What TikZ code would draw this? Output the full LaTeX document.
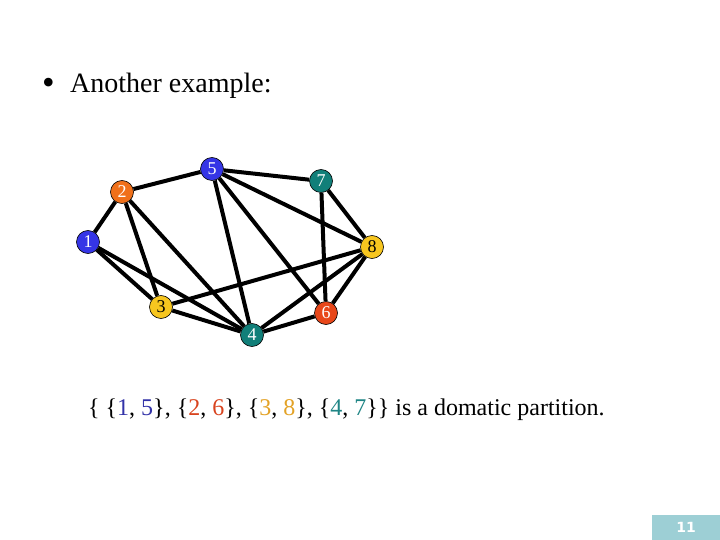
\documentclass[tikz,border=0pt]{standalone}
\usepackage{fontspec}
\setmainfont{Liberation Serif}
\newfontfamily\footfont{DejaVu Sans}
\definecolor{vblue}{HTML}{3535E6}
\definecolor{vorange}{HTML}{F0701A}
\definecolor{vred}{HTML}{E8471A}
\definecolor{vyellow}{HTML}{F7C61F}
\definecolor{vteal}{HTML}{117F79}
\definecolor{tblue}{HTML}{3333A8}
\definecolor{tred}{HTML}{D8431E}
\definecolor{tgold}{HTML}{E3A226}
\definecolor{tteal}{HTML}{1F8585}
\definecolor{footbg}{HTML}{9DCFD5}
\begin{document}
\begin{tikzpicture}[x=1pt, y=-1pt,
    vertex/.style={circle, draw=black, line width=0.6pt, minimum size=23pt, inner sep=0pt, font=\fontsize{18}{18}\selectfont},
    edge/.style={line width=4pt, black}
]
\useasboundingbox (0,0) rectangle (720,540);

% Title
\node[anchor=base west, inner sep=0pt, font=\fontsize{36}{36}\selectfont] (bul) at (42,95) {\textbullet};
\node[anchor=base west, inner sep=0pt, font=\fontsize{28}{28}\selectfont] (title) at (70,93) {Another example:};

% Vertices
\node[vertex, fill=vblue, text=white] (n1) at (88,242) {1};
\node[vertex, fill=vorange, text=white] (n2) at (122,192) {2};
\node[vertex, fill=vyellow, text=black] (n3) at (161,307) {3};
\node[vertex, fill=vteal, text=white] (n4) at (252,335) {4};
\node[vertex, fill=vblue, text=white] (n5) at (212,169) {5};
\node[vertex, fill=vred, text=white] (n6) at (326,313) {6};
\node[vertex, fill=vteal, text=white] (n7) at (321,181) {7};
\node[vertex, fill=vyellow, text=black] (n8) at (372,247) {8};

% Edges
\foreach \a/\b in {1/2, 1/3, 1/4, 2/5, 2/3, 2/4, 5/7, 5/4, 5/6, 5/8,
                   7/8, 7/6, 8/3, 8/4, 8/6, 3/4, 4/6} {
    \draw[edge] (n\a) -- (n\b);
}

% Partition
\node[anchor=base west, inner sep=0pt, font=\fontsize{24}{24}\selectfont] (part) at (88,415)
    {\{ \{\textcolor{tblue}{1}, \textcolor{tblue}{5}\}, \{\textcolor{tred}{2}, \textcolor{tred}{6}\}, \{\textcolor{tgold}{3}, \textcolor{tgold}{8}\}, \{\textcolor{tteal}{4}, \textcolor{tteal}{7}\}\} is a domatic partition.};

% Page number
\node[fill=footbg, minimum width=68pt, minimum height=25pt, inner sep=0pt, text=white,
      font=\footfont\bfseries\fontsize{14}{14}\selectfont] (page) at (686,527.5) {11};
\end{tikzpicture}
\end{document}
